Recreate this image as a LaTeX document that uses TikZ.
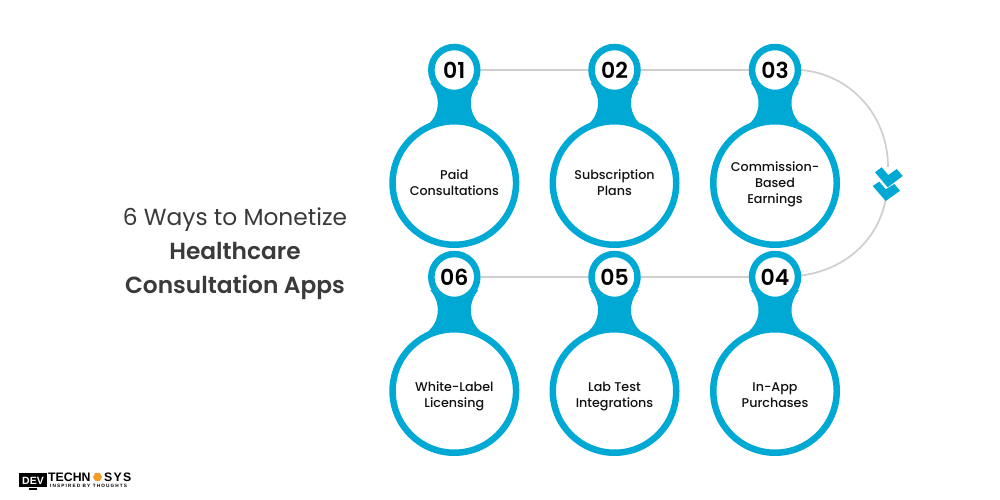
\documentclass[tikz,border=0pt]{standalone}
\usepackage{fontspec}
\usetikzlibrary{shapes.geometric}
\setmainfont{Poppins}[UprightFont=* Regular,BoldFont=* SemiBold]
\newfontfamily\medfont{Poppins Medium}
\newfontfamily\logofont{Liberation Sans}[BoldFont=* Bold]
\definecolor{teal}{HTML}{00A9D4}
\definecolor{linegray}{HTML}{CFCFCF}
\definecolor{ink}{HTML}{111111}
\definecolor{titleink}{HTML}{3A3A3A}
\definecolor{orangehex}{HTML}{F59A23}
\tikzset{
  x=1pt,y=-1pt,
  smallc/.style={circle,draw=teal,line width=6.5pt,fill=white,minimum size=46pt,inner sep=0pt,font=\fontsize{22}{24}\selectfont\bfseries,text=black},
  bigc/.style={circle,draw=teal,line width=6.5pt,fill=white,minimum size=123.5pt,inner sep=0pt},
  biglabel/.style={inner sep=0pt,align=center,font=\medfont\fontsize{12.7}{16}\selectfont,text=ink},
  link/.style={draw=linegray,line width=1.7pt},
  neckfill/.style={fill=teal,draw=none},
  chev/.style={fill=teal,draw=none},
  titletext/.style={align=center,text=titleink,font=\fontsize{23.3}{34}\selectfont},
}
\newcommand{\unitshape}[7]{% id, x, ys, yb, num, label, ylabel
  \fill[neckfill] (#2-24,#3+13) .. controls (#2-17,#3+22) and (#2-16.5,#3+29) .. (#2-16.5,#3+33)
     .. controls (#2-16.5,#3+44) and (#2-22,#3+51) .. (#2-28,#3+56)
     -- (#2+28,#3+56) .. controls (#2+22,#3+51) and (#2+16.5,#3+44) .. (#2+16.5,#3+33)
     .. controls (#2+16.5,#3+29) and (#2+17,#3+22) .. (#2+24,#3+13) -- cycle;
  \node[smallc] (n#1) at (#2,#3) {#5};
  \node[bigc] (b#1) at (#2,#4) {};
  \node[biglabel] (t#1) at (#2,#7) {#6};
}
\begin{document}
\begin{tikzpicture}
\useasboundingbox (0,0) rectangle (1000,500);
\fill[white] (0,0) rectangle (1000,500);
\coordinate (arrA) at (888,167);
\coordinate (arrB) at (885.5,200);
\draw[link] (801,70) .. controls (850,74) and (888,115) .. (arrA);
\draw[link] (arrB) .. controls (878,240) and (845,270) .. (801,275.5);
\unitshape{1}{454.3}{70}{183}{01}{\strut Paid\\\strut Consultations}{184.5}
\unitshape{2}{614.5}{70}{183}{02}{\strut Subscription\\\strut Plans}{184.5}
\unitshape{3}{775}{70}{183}{03}{\strut Commission-\\\strut Based\\\strut Earnings}{184.5}
\unitshape{4}{775}{277}{391}{04}{\strut In-App\\\strut Purchases}{396.5}
\unitshape{5}{614.5}{277}{391}{05}{\strut Lab Test\\\strut Integrations}{396.5}
\unitshape{6}{454.3}{277}{391}{06}{\strut White-Label\\\strut Licensing}{396.5}
\draw[link] (n1) -- (n2);
\draw[link] (n2) -- (n3);
\draw[link] (n6) -- (n5);
\draw[link] (n5) -- (n4);
\fill[chev] (875,172.3) -- (881.7,167.3) -- (888.3,175) -- (896.7,169) -- (902.7,176) -- (887.7,187.3) -- cycle;
\fill[chev] (872.7,186) -- (879.3,181.7) -- (885.7,189.3) -- (894.3,184) -- (900,190.7) -- (885.7,201) -- cycle;
\node[titletext] (title) at (235,254) {6 Ways to Monetize\\\textbf{Healthcare}\\\textbf{Consultation Apps}};
% logo
\fill[black] (19,473) rectangle (47,487);
\fill[black] (29,488) rectangle (37,490);
\node[inner sep=0pt,text=white,font=\logofont\bfseries\fontsize{10.5}{10}\selectfont] (logodev) at (33,480.5) {DEV};
\node[inner sep=0pt,anchor=west,text=black,font=\logofont\bfseries\fontsize{12.3}{12.5}\selectfont] (logotech) at (48,477) {TECHN};
\node[regular polygon,regular polygon sides=6,fill=orangehex,minimum size=9pt,inner sep=0pt] (logoo) at (97.5,477) {};
\node[inner sep=0pt,anchor=west,text=black,font=\logofont\bfseries\fontsize{12.3}{12.5}\selectfont\addfontfeature{LetterSpace=10}] (logosys) at (104,477) {SYS};
\node[inner sep=0pt,anchor=west,text=black,font=\logofont\bfseries\fontsize{4.7}{5}\selectfont\addfontfeature{LetterSpace=24}] (logotag) at (50,486) {INSPIRED BY THOUGHTS};
\end{tikzpicture}
\end{document}
